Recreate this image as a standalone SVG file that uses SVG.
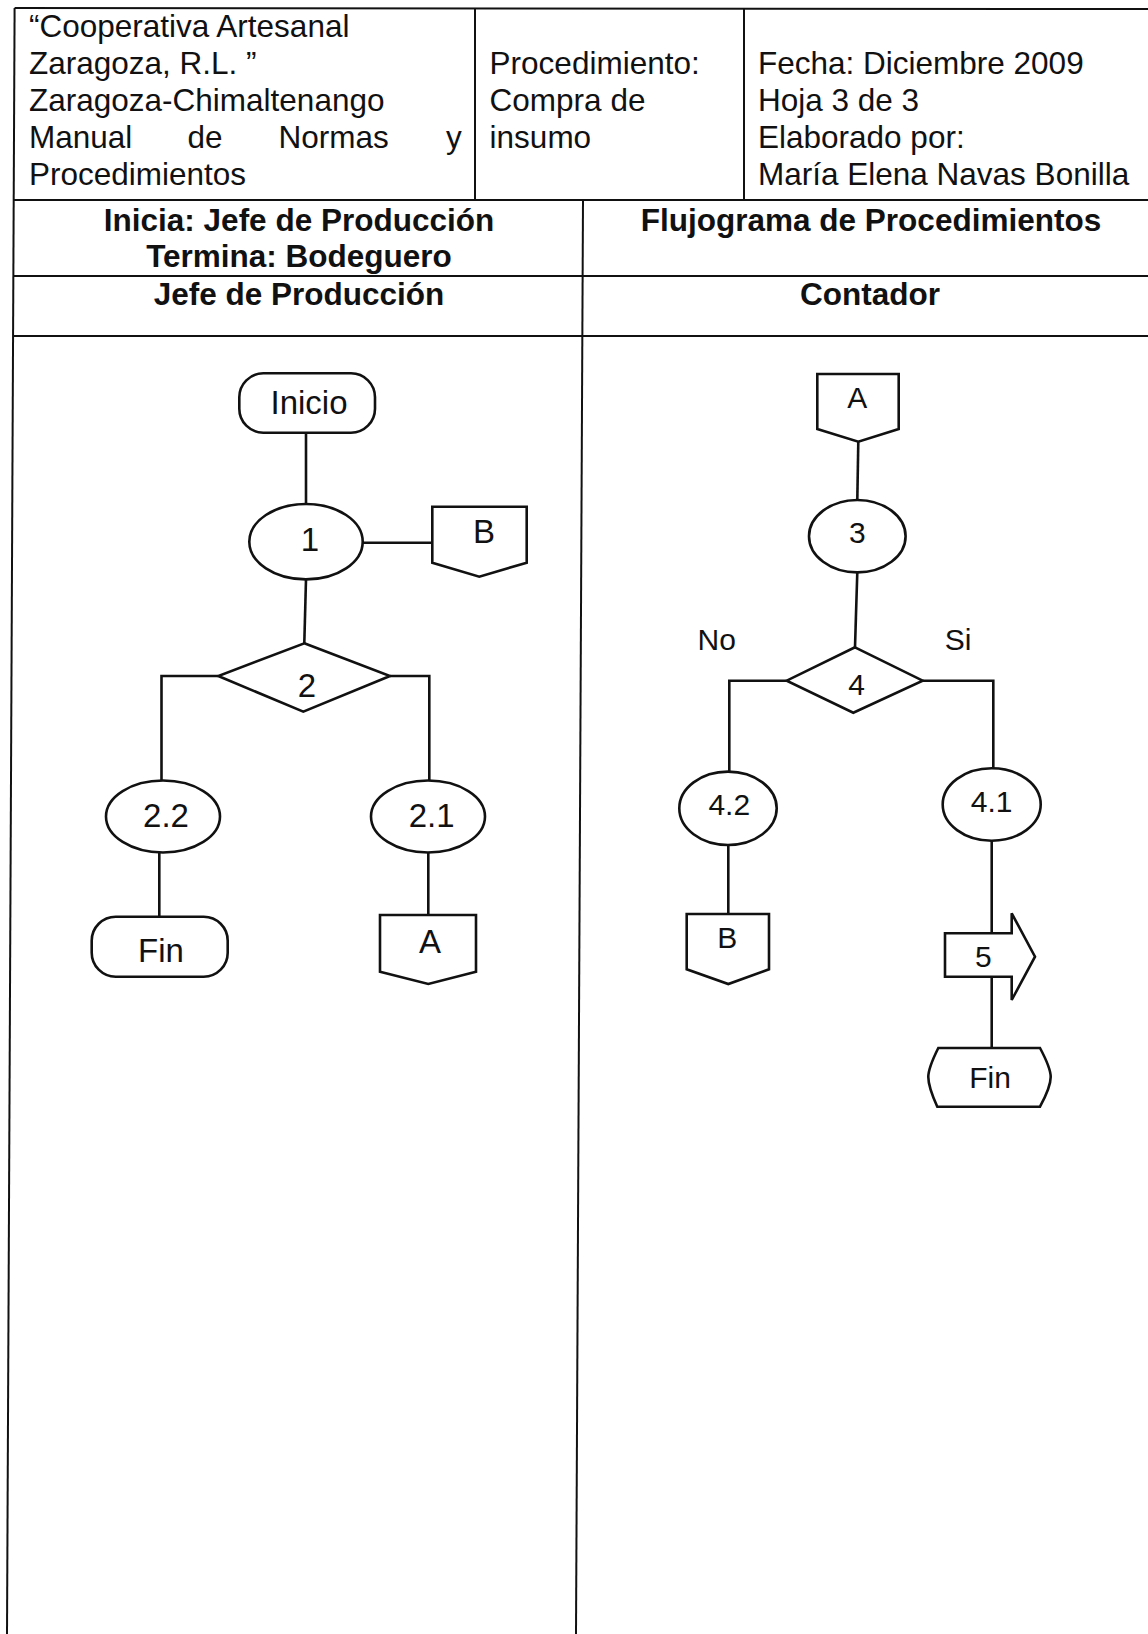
<svg xmlns="http://www.w3.org/2000/svg" width="1148" height="1634" viewBox="0 0 1148 1634">
  <style>
    .grid { stroke: #111; stroke-width: 2; fill: none; }
    .shape { stroke: #111; stroke-width: 2.6; fill: #fff; }
    .wire { stroke: #111; stroke-width: 2.6; fill: none; }
    .hd { font-family: "Liberation Sans", Arial, sans-serif; font-size: 31.5px; fill: #111; }
    .hb { font-family: "Liberation Sans", Arial, sans-serif; font-size: 31.5px; font-weight: bold; fill: #111; text-anchor: middle; }
    .lbl { font-family: "Liberation Sans", Arial, sans-serif; font-size: 33px; fill: #111; text-anchor: middle; }
    .lbs { font-family: "Liberation Sans", Arial, sans-serif; font-size: 30px; fill: #111; text-anchor: middle; }
  </style>
  <rect width="1148" height="1634" fill="#fff"/>

  <!-- table frame -->
  <g id="table" class="grid">
    <line x1="14.6" y1="8" x2="1148" y2="9"/>
    <line x1="14.6" y1="8" x2="7" y2="1634"/>
    <line x1="475" y1="8" x2="475" y2="200"/>
    <line x1="744" y1="8" x2="744" y2="200"/>
    <line x1="13.6" y1="200" x2="1148" y2="200"/>
    <line x1="583" y1="200" x2="576" y2="1634"/>
    <line x1="13.3" y1="276" x2="1148" y2="276"/>
    <line x1="13" y1="336" x2="1148" y2="336"/>
  </g>

  <!-- header block -->
  <g id="header">
    <text class="hd" x="29" y="37">“Cooperativa Artesanal</text>
    <text class="hd" x="29" y="74">Zaragoza, R.L. ”</text>
    <text class="hd" x="29" y="111">Zaragoza-Chimaltenango</text>
    <text class="hd" y="148"><tspan x="29">Manual</tspan><tspan x="187.5">de</tspan><tspan x="278.5">Normas</tspan><tspan x="446">y</tspan></text>
    <text class="hd" x="29" y="185">Procedimientos</text>

    <text class="hd" x="489.6" y="74">Procedimiento:</text>
    <text class="hd" x="489.6" y="111">Compra de</text>
    <text class="hd" x="489.6" y="148">insumo</text>

    <text class="hd" x="758" y="74">Fecha: Diciembre 2009</text>
    <text class="hd" x="758" y="111">Hoja 3 de 3</text>
    <text class="hd" x="758" y="148">Elaborado por:</text>
    <text class="hd" x="758" y="185">María Elena Navas Bonilla</text>

    <text class="hb" x="299" y="231">Inicia: Jefe de Producción</text>
    <text class="hb" x="299" y="267">Termina: Bodeguero</text>
    <text class="hb" x="871" y="231">Flujograma de Procedimientos</text>
    <text class="hb" x="299" y="305">Jefe de Producción</text>
    <text class="hb" x="870" y="305">Contador</text>
  </g>

  <!-- connectors -->
  <g id="connectors" class="wire">
    <line x1="306" y1="433" x2="306" y2="504"/>
    <line x1="362.7" y1="542.7" x2="432.3" y2="542.7"/>
    <line x1="306" y1="579.3" x2="304.3" y2="643.3"/>
    <polyline points="218.3,676 161.5,676 161.5,781"/>
    <polyline points="390,676 429.3,676 429.3,781"/>
    <line x1="159.3" y1="852.7" x2="159.3" y2="916.7"/>
    <line x1="428.3" y1="852.7" x2="428.3" y2="915"/>

    <line x1="858.3" y1="441.7" x2="857.3" y2="500"/>
    <line x1="857.3" y1="572.3" x2="855" y2="647.3"/>
    <polyline points="786.7,680.7 729.3,680.7 729.3,772"/>
    <polyline points="922.7,680.7 993.3,680.7 993.3,768.5"/>
    <line x1="728.3" y1="845" x2="728.3" y2="914"/>
    <line x1="991.7" y1="840.7" x2="991.7" y2="933.3"/>
    <line x1="991.7" y1="976.7" x2="991.7" y2="1048"/>
  </g>

  <!-- Jefe de Producción lane -->
  <g id="inicio">
    <rect class="shape" x="239.3" y="373.3" width="135.7" height="59.4" rx="24" ry="24"/>
    <text class="lbl" x="309" y="414">Inicio</text>
  </g>
  <g id="op1">
    <ellipse class="shape" cx="306" cy="541.7" rx="56.7" ry="37.7"/>
    <text class="lbl" x="310" y="551">1</text>
  </g>
  <g id="conB1">
    <polygon class="shape" points="432.3,506.7 526.7,506.7 526.7,562.7 479.3,576.7 432.3,562.7"/>
    <text class="lbl" x="484" y="543">B</text>
  </g>
  <g id="dec2">
    <polygon class="shape" points="304.3,643.3 390,676 303.3,711.7 218.3,676"/>
    <text class="lbl" x="307" y="697">2</text>
  </g>
  <g id="op22">
    <ellipse class="shape" cx="163" cy="816.5" rx="57" ry="36"/>
    <text class="lbl" x="166" y="827">2.2</text>
  </g>
  <g id="fin1">
    <rect class="shape" x="91.7" y="916.7" width="136" height="60" rx="24" ry="24"/>
    <text class="lbl" x="161" y="962">Fin</text>
  </g>
  <g id="op21">
    <ellipse class="shape" cx="428" cy="816.5" rx="57" ry="36"/>
    <text class="lbl" x="431.7" y="827">2.1</text>
  </g>
  <g id="conA1">
    <polygon class="shape" points="380,915 476,915 476,971.7 428.3,984 380,971.7"/>
    <text class="lbl" x="430" y="953.3">A</text>
  </g>

  <!-- Contador lane -->
  <g id="conA2">
    <polygon class="shape" points="817.3,374 898.7,374 898.7,429 858.3,441.7 817.3,429"/>
    <text class="lbs" x="857.3" y="407.7">A</text>
  </g>
  <g id="op3">
    <ellipse class="shape" cx="857.3" cy="536.2" rx="48.3" ry="36.2"/>
    <text class="lbs" x="857.3" y="542.7">3</text>
  </g>
  <g id="dec4">
    <polygon class="shape" points="855,647.3 922.7,680.7 853.3,712.7 786.7,680.7"/>
    <text class="lbs" x="856.7" y="695">4</text>
  </g>
  <g id="labels4">
    <text class="lbs" x="716.7" y="650">No</text>
    <text class="lbs" x="958" y="650">Si</text>
  </g>
  <g id="op42">
    <ellipse class="shape" cx="728" cy="808.3" rx="48.7" ry="36.7"/>
    <text class="lbs" x="729.3" y="815">4.2</text>
  </g>
  <g id="conB2">
    <polygon class="shape" points="686.7,914 769,914 769,969.3 728.3,984 686.7,969.3"/>
    <text class="lbs" x="727.3" y="948.3">B</text>
  </g>
  <g id="op41">
    <ellipse class="shape" cx="991.7" cy="804.5" rx="49" ry="36.2"/>
    <text class="lbs" x="991.7" y="811.7">4.1</text>
  </g>
  <g id="trans5">
    <polygon class="shape" points="945,933.3 1011.7,933.3 1011.7,913.3 1035,956.7 1011.7,1000 1011.7,976.7 945,976.7"/>
    <text class="lbs" x="983.3" y="966.7">5</text>
  </g>
  <g id="fin2">
    <path class="shape" d="M938.3,1048 L1040,1048 Q1050.7,1068 1050.7,1077 Q1050.7,1087 1040,1106.7 L937.3,1106.7 Q928.3,1087 928.3,1077 Q928.3,1068 938.3,1048 Z"/>
    <text class="lbs" x="990" y="1088.3">Fin</text>
  </g>
</svg>
